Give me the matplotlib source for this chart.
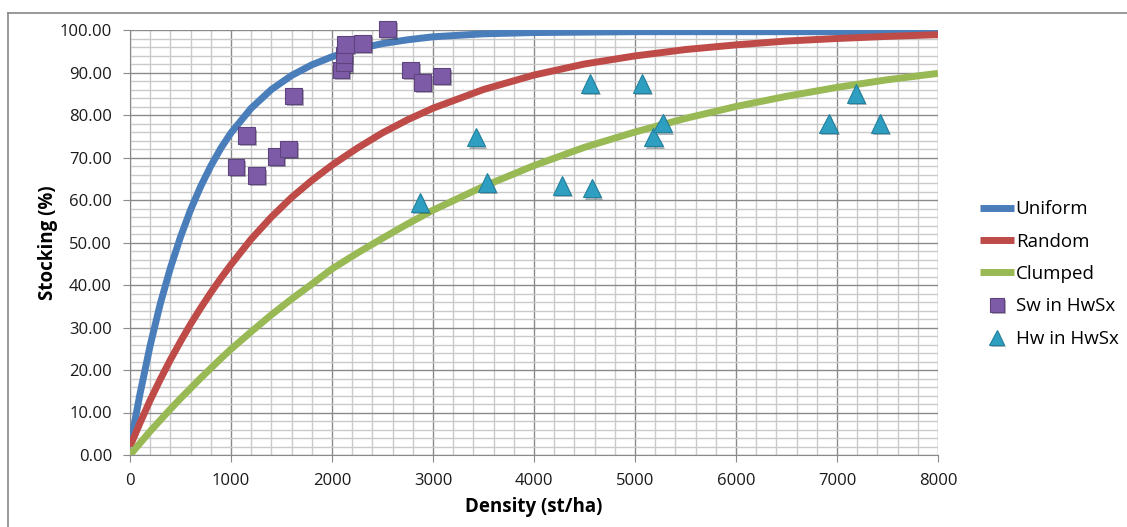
import matplotlib
matplotlib.use("Agg")
import matplotlib.pyplot as plt
import matplotlib.patheffects as pe
from matplotlib.lines import Line2D
from matplotlib.ticker import MultipleLocator, FormatStrFormatter

# stocking curves
density = [0, 100, 200, 300, 400, 500, 600, 700, 800, 900, 1000, 1200, 1400, 1600, 1800,
           2000, 2250, 2500, 2750, 3000, 3500, 4000, 4500, 5000, 5500, 6000, 6500, 7000, 7500, 8000]
uniform = [2.0, 14.5, 25.8, 35.6, 44.0, 51.3, 57.7, 63.2, 68.0, 72.2, 75.8, 81.6, 86.0, 89.3, 91.8,
           93.7, 95.5, 96.8, 97.7, 98.4, 99.1, 99.4, 99.5, 99.6, 99.6, 99.6, 99.6, 99.6, 99.6, 99.6]
random_ = [2.0, 7.6, 12.9, 17.8, 22.4, 26.7, 30.8, 34.6, 38.2, 41.6, 44.8, 50.8, 56.0, 60.6, 64.6,
           68.2, 72.2, 75.8, 78.9, 81.6, 86.0, 89.4, 92.0, 93.9, 95.4, 96.5, 97.4, 98.0, 98.5, 98.9]
clumped = [0.0, 2.8, 5.6, 8.2, 10.8, 13.3, 15.7, 18.1, 20.4, 22.7, 24.9, 29.0, 33.0, 36.7, 40.2,
           43.8, 47.5, 51.0, 54.4, 57.6, 63.2, 68.1, 72.4, 76.0, 79.2, 82.0, 84.4, 86.5, 88.3, 89.8]

# observed plots
sw_density = [1050, 1155, 1254, 1446, 1568, 1617, 2089, 2119, 2119, 2135, 2304, 2551, 2779, 2898, 3086]
sw_stocking = [67.8, 75.1, 65.7, 70.2, 72.0, 84.5, 90.6, 92.2, 94.1, 96.6, 96.9, 100.2, 90.6, 87.6, 89.2]
hw_density = [2871, 3426, 3535, 4277, 4574, 4554, 5069, 5181, 5274, 6918, 7188, 7426]
hw_stocking = [59.5, 74.8, 64.2, 63.5, 62.8, 87.5, 87.5, 74.8, 78.1, 78.0, 85.1, 78.0]

FONT = ["Open Sans", "DejaVu Sans"]
plt.rcParams["font.family"] = FONT

fig = plt.figure(figsize=(11.27, 5.27), dpi=100)
ax = fig.add_axes([130 / 1127, 1 - 455 / 527, 808 / 1127, 425 / 527])

ax.set_xlim(0, 8000)
ax.set_ylim(0, 100)
ax.xaxis.set_major_locator(MultipleLocator(1000))
ax.xaxis.set_minor_locator(MultipleLocator(200))
ax.yaxis.set_major_locator(MultipleLocator(10))
ax.yaxis.set_minor_locator(MultipleLocator(2))
ax.yaxis.set_major_formatter(FormatStrFormatter("%.2f"))

ax.grid(which="minor", color="#cacaca", lw=1.0)
ax.grid(which="major", color="#8a8a8a", lw=1.0)
ax.set_axisbelow(True)
ax.tick_params(which="minor", length=0)
ax.tick_params(which="major", length=5, color="#8a8a8a", labelsize=12, labelcolor="#1a1a1a")
ax.tick_params(axis="y", pad=8)
ax.tick_params(axis="x", pad=8)
for s in ["top", "right"]:
    ax.spines[s].set_visible(False)
for s in ["left", "bottom"]:
    ax.spines[s].set_color("#8a8a8a")

lw = 5.0
ax.plot(density, uniform, color="#4a7ebb", lw=lw, label="Uniform", solid_capstyle="butt", zorder=3)
ax.plot(density, random_, color="#be4b48", lw=lw, label="Random", solid_capstyle="butt", zorder=3)
ax.plot(density, clumped, color="#98b954", lw=lw, label="Clumped", solid_capstyle="butt", zorder=3)

shadow = [pe.SimplePatchShadow(offset=(1.5, -1.5), alpha=0.35), pe.Normal()]
ax.plot(sw_density, sw_stocking, ls="none", marker="s", ms=12, mfc="#7d5ba6", mec="#5d437f",
        mew=0.8, label="Sw in HwSx", zorder=5, clip_on=False, path_effects=shadow)
ax.plot(hw_density, hw_stocking, ls="none", marker="^", ms=13.5, mfc="#2f9fc1", mec="#22819e",
        mew=0.8, label="Hw in HwSx", zorder=5, clip_on=False, path_effects=shadow)

ax.set_xlabel("Density (st/ha)", fontsize=13.5, fontweight="bold", labelpad=6)
ax.set_ylabel("Stocking (%)", fontsize=13.5, fontweight="bold", labelpad=1)

leg = fig.legend(loc="center left", bbox_to_anchor=(980 / 1127, 1 - 274 / 527), frameon=False,
                 fontsize=13.5, borderpad=0, borderaxespad=0, handlelength=1.8, handletextpad=0.1,
                 labelspacing=0.77, markerscale=0.8)

# chart area border
fig.add_artist(Line2D([8 / 1127, 1], [1 - 13 / 527, 1 - 13 / 527], color="#878787", lw=1.2))
fig.add_artist(Line2D([8 / 1127, 8 / 1127], [0, 1 - 13 / 527], color="#878787", lw=1.2))

fig.savefig("out.png", dpi=100)
